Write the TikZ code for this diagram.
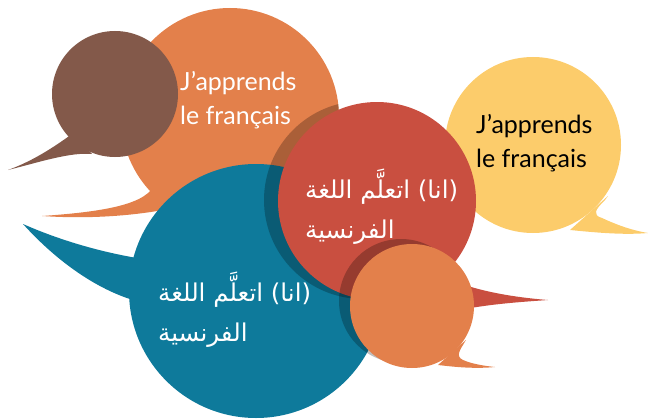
\documentclass[tikz,border=0pt]{standalone}
\usepackage{fontspec}
\newfontfamily\arabicfont[Script=Arabic]{DejaVu Sans}
\newfontfamily\handfont{Lato}
\TeXXeTstate=1
\definecolor{orng}{HTML}{E3804B}
\definecolor{brwn}{HTML}{83594A}
\definecolor{teal}{HTML}{0E7A9B}
\definecolor{rust}{HTML}{C94F40}
\definecolor{ylw}{HTML}{FCCC6B}

\begin{document}
\begin{tikzpicture}[x=1pt,y=-1pt,
  darkdisc/.style={fill=black,fill opacity=0.25},
  fr/.style={font=\handfont\fontsize{25}{34}\selectfont,align=left,
    inner sep=0pt,anchor=west},
  ar/.style={font=\arabicfont\fontsize{24.5}{40}\selectfont,align=left,
    inner sep=0pt,anchor=west,text=white}]
  \useasboundingbox (0,0) rectangle (648,420);

  % big orange bubble
  \fill[orng] (155,182) .. controls (150,205) and (100,212) .. (42,216)
    .. controls (100,220) and (160,214) .. (205,200) -- cycle;
  \fill[orng] (230,117) circle[radius=109];
  % brown bubble
  \fill[brwn] (72,134) .. controls (50,150) and (30,162) .. (8,170)
    .. controls (40,162) and (70,152) .. (92,154) -- cycle;
  \fill[brwn] (115,94) circle[radius=63];
  % teal bubble
  \fill[teal] (145,255) -- (137,258) .. controls (90,250) and (50,236) .. (23,224)
    .. controls (60,265) and (100,290) .. (133,300) -- cycle;
  \fill[teal] (256,291) circle[radius=127];
  % yellow bubble
  \fill[ylw] (608,196) -- (605,200) .. controls (595,210) and (592,215) .. (602,218)
    .. controls (615,224) and (630,230) .. (648,233)
    .. controls (625,235) and (600,233) .. (570,230) -- cycle;
  \fill[ylw] (533,145) circle[radius=88];
  % red bubble, its shade only on the orange and teal bubbles
  \fill[rust] (440,275) .. controls (470,290) and (510,297) .. (548,300)
    .. controls (520,302) and (490,304) .. (460,310) -- cycle;
  \begin{scope}
    \clip (230,117) circle[radius=109] (256,291) circle[radius=127];
    \fill[darkdisc] (363,200) circle[radius=99];
  \end{scope}
  \fill[rust] (377,201) circle[radius=99];
  % small orange bubble
  \fill[darkdisc] (401,301) circle[radius=62];
  \fill[orng] (466,340) .. controls (460,350) and (455,356) .. (463,360)
    .. controls (472,364) and (485,366) .. (495,367)
    .. controls (475,369) and (455,367) .. (438,365) -- cycle;
  \fill[orng] (412,306) circle[radius=62];

  \node[fr,text=white] (orngtext) at (180,100) {J’apprends\\le français};
  \node[fr,text=black] (ylwtext) at (476,143) {J’apprends\\le français};
  \node[ar] (rusttext) at (305,207)
    {\beginR (انا) اتعلَّم اللغة\endR\\\beginR الفرنسية\endR};
  \node[ar] (tealtext) at (158,310)
    {\beginR (انا) اتعلَّم اللغة\endR\\\beginR الفرنسية\endR};
\end{tikzpicture}
\end{document}
